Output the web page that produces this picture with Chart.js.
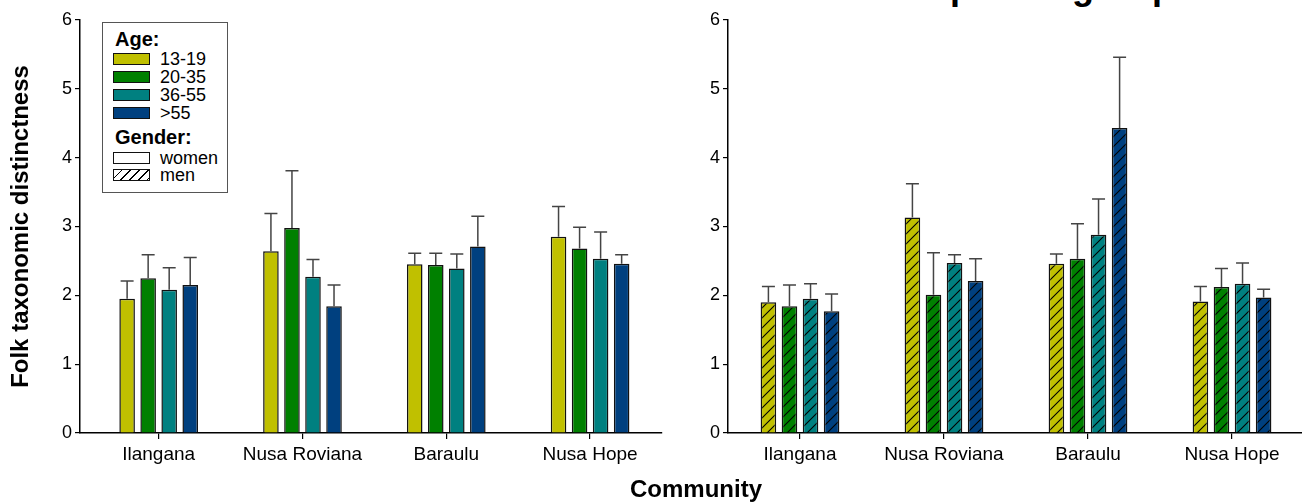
<!DOCTYPE html>
<html>
<head>
<meta charset="utf-8">
<script src="https://cdn.jsdelivr.net/npm/chart.js@4"></script>
<style>
  body { margin: 0; background: #fff; font-family: 'Liberation Sans', Arial, sans-serif; }
  #wrap { position: relative; width: 1302px; height: 502px; overflow: hidden; }
  #left-box { position: absolute; left: 0; top: 0; width: 690px; height: 502px; }
  #right-box { position: absolute; left: 690px; top: 0; width: 612px; height: 502px; }
  #top-title { position: absolute; left: 926px; top: -31px; font-weight: bold; font-size: 36px; line-height: 36px; white-space: nowrap; }
  #x-title { position: absolute; left: 0; width: 1392px; top: 475px; text-align: center; font-weight: bold; font-size: 24px; }
  #legend { position: absolute; left: 102px; top: 22px; width: 124px; height: 169px; border: 1px solid #555; background: #fff; }
  #legend .head { position: absolute; left: 12px; font-weight: bold; font-size: 20px; line-height: 20px; }
  #legend .sw { position: absolute; left: 10px; width: 35px; height: 10px; border: 1px solid #111; }
  #legend .lab { position: absolute; left: 57px; font-size: 18px; line-height: 18px; }
</style>
</head>
<body>
<div id="wrap">
  <div id="top-title">Species group</div>
  <div id="left-box"><canvas id="women-chart"></canvas></div>
  <div id="right-box"><canvas id="men-chart"></canvas></div>
  <div id="legend"></div>
  <div id="x-title">Community</div>
</div>
<script>
const communities = ['Ilangana', 'Nusa Roviana', 'Baraulu', 'Nusa Hope'];
const ageGroups = ['13-19', '20-35', '36-55', '>55'];
const ageColors = ['#C0C000', '#008000', '#008080', '#00407F'];
const yTicks = [0, 1, 2, 3, 4, 5, 6];

// women (left panel), means and error bar (upper) sizes
const women1319 = [1.95, 2.64, 2.45, 2.85];
const women2035 = [2.25, 2.98, 2.44, 2.68];
const women3655 = [2.08, 2.27, 2.39, 2.53];
const women55 = [2.15, 1.84, 2.71, 2.46];
const women1319Err = [0.26, 0.55, 0.16, 0.44];
const women2035Err = [0.34, 0.83, 0.17, 0.31];
const women3655Err = [0.32, 0.25, 0.21, 0.39];
const women55Err = [0.40, 0.31, 0.44, 0.13];

// men (right panel)
const men1319 = [1.90, 3.13, 2.46, 1.91];
const men2035 = [1.84, 2.01, 2.53, 2.12];
const men3655 = [1.95, 2.47, 2.88, 2.17];
const men55 = [1.77, 2.21, 4.43, 1.97];
const men1319Err = [0.23, 0.49, 0.14, 0.22];
const men2035Err = [0.31, 0.61, 0.51, 0.27];
const men3655Err = [0.22, 0.12, 0.52, 0.30];
const men55Err = [0.25, 0.32, 1.03, 0.12];

Chart.defaults.font.family = "'Liberation Sans', Arial, sans-serif";
Chart.defaults.color = '#000';

function hatch(color) {
  const size = 10;
  const c = document.createElement('canvas');
  c.width = size;
  c.height = size;
  const ctx = c.getContext('2d');
  ctx.fillStyle = color;
  ctx.fillRect(0, 0, size, size);
  ctx.strokeStyle = '#000';
  ctx.lineWidth = 1.1;
  ctx.beginPath();
  ctx.moveTo(-1, size + 1);
  ctx.lineTo(size + 1, -1);
  ctx.moveTo(-1, 1);
  ctx.lineTo(1, -1);
  ctx.moveTo(size - 1, size + 1);
  ctx.lineTo(size + 1, size - 1);
  ctx.stroke();
  return ctx.createPattern(c, 'repeat');
}

// draws the upper error bar of every bar
const errorBars = {
  id: 'errorBars',
  afterDatasetsDraw(chart) {
    const ctx = chart.ctx;
    const yScale = chart.scales.y;
    ctx.save();
    ctx.strokeStyle = '#444';
    ctx.lineWidth = 1.5;
    chart.data.datasets.forEach((ds, di) => {
      const meta = chart.getDatasetMeta(di);
      meta.data.forEach((bar, i) => {
        const top = yScale.getPixelForValue(ds.data[i].y + ds.errors[i]);
        ctx.beginPath();
        ctx.moveTo(bar.x, bar.y);
        ctx.lineTo(bar.x, top);
        ctx.moveTo(bar.x - 6.5, top);
        ctx.lineTo(bar.x + 6.5, top);
        ctx.stroke();
      });
    });
    ctx.restore();
  }
};

function makeDatasets(values, errors, hatched) {
  return values.map((v, i) => ({
    label: ageGroups[i],
    data: v.map((y, k) => ({ x: k + 1, y: y })),
    errors: errors[i],
    backgroundColor: hatched ? hatch(ageColors[i]) : ageColors[i],
    borderColor: '#111',
    borderWidth: 1.5,
    barPercentage: 0.74,
    categoryPercentage: 0.585
  }));
}

function makeOptions(yWidth, showTitle, rightPad, xMin, xMax) {
  return {
    responsive: false,
    animation: false,
    layout: { padding: { top: 20, right: rightPad, left: 0, bottom: 0 } },
    plugins: { legend: { display: false }, tooltip: { enabled: false } },
    scales: {
      x: {
        type: 'linear',
        min: xMin,
        max: xMax,
        offset: false,
        afterBuildTicks(scale) { scale.ticks = communities.map((c, i) => ({ value: i + 1 })); },
        grid: { display: true, drawOnChartArea: false, offset: false, tickLength: 6, color: '#000', lineWidth: 1.2 },
        border: { color: '#000', width: 1.5 },
        ticks: {
          font: { size: 19 },
          padding: 4,
          maxRotation: 0,
          autoSkip: false,
          callback: (v) => communities[v - 1]
        },
        afterFit(scale) { scale.height = 69; }
      },
      y: {
        min: 0,
        max: 6,
        afterBuildTicks(scale) { scale.ticks = yTicks.map(v => ({ value: v })); },
        grid: { display: true, drawOnChartArea: false, tickLength: 5, color: '#000', lineWidth: 1.2 },
        border: { color: '#000', width: 1.5 },
        ticks: { font: { size: 18 }, padding: 3 },
        title: {
          display: showTitle,
          text: 'Folk taxonomic distinctness',
          font: { size: 24, weight: 'bold' },
          padding: { top: 7, bottom: 0 }
        },
        afterFit(scale) { scale.width = yWidth; }
      }
    }
  };
}

function setSize(id, w, h) {
  const c = document.getElementById(id);
  c.width = w;
  c.height = h;
  c.style.width = w + 'px';
  c.style.height = h + 'px';
  return c;
}

new Chart(setSize('women-chart', 690, 502).getContext('2d'), {
  type: 'bar',
  data: {
    datasets: makeDatasets(
      [women1319, women2035, women3655, women55],
      [women1319Err, women2035Err, women3655Err, women55Err],
      false
    )
  },
  options: makeOptions(80, true, 28, 0.453, 4.5),
  plugins: [errorBars]
});

new Chart(setSize('men-chart', 612, 502).getContext('2d'), {
  type: 'bar',
  data: {
    datasets: makeDatasets(
      [men1319, men2035, men3655, men55],
      [men1319Err, men2035Err, men3655Err, men55Err],
      true
    )
  },
  options: makeOptions(38, false, 0, 0.5, 4.486),
  plugins: [errorBars]
});

// legend box
const legend = document.getElementById('legend');
function addEl(cls, top, html, style) {
  const d = document.createElement('div');
  d.className = cls;
  d.style.top = top + 'px';
  if (html) d.textContent = html;
  if (style) Object.assign(d.style, style);
  legend.appendChild(d);
}
addEl('head', 6, 'Age:');
ageGroups.forEach((g, i) => {
  const top = 30 + i * 18;
  addEl('sw', top, '', { background: ageColors[i] });
  addEl('lab', top - 3, g);
});
addEl('head', 104, 'Gender:');
addEl('sw', 129, '', { background: '#fff' });
addEl('lab', 126, 'women');
addEl('sw', 146, '', { background: 'repeating-linear-gradient(135deg, #fff 0px, #fff 5px, #000 5px, #000 6.2px)' });
addEl('lab', 143, 'men');
</script>
</body>
</html>
